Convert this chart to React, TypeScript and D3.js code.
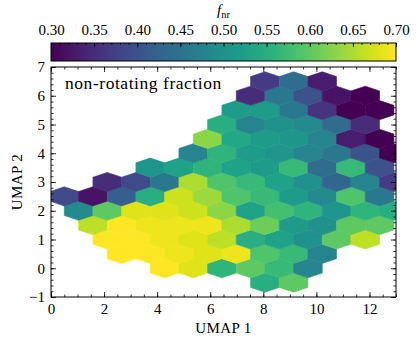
import { useRef, useEffect } from 'react';
import * as d3 from 'd3';

// hexbin grid: row k sits at y = rowY0 + k * rowStep; odd rows shifted by half a hex
const hexWidth = 1.08;
const hexRowHeight = 1.0;
const rowY0 = -0.5;
const rowStep = 0.5;
const colX0 = 0.5;

// first column index of every row (bottom row first)
const rowStart = [7, 3, 2, 1, 1, 0, 0, 1, 3, 4, 5, 5, 6, 6, 7];

// non-rotating fraction per hexagon, row by row
const rowValues = [
  [0.55, 0.6],
  [0.7, 0.68, 0.56, 0.6, 0.57, 0.48],
  [0.7, 0.7, 0.69, 0.68, 0.69, 0.59, 0.57, 0.48],
  [0.7, 0.7, 0.69, 0.68, 0.66, 0.55, 0.53, 0.5, 0.6, 0.66],
  [0.66, 0.7, 0.69, 0.69, 0.69, 0.65, 0.61, 0.52, 0.5, 0.6, 0.6],
  [0.49, 0.6, 0.68, 0.68, 0.67, 0.63, 0.53, 0.58, 0.56, 0.51, 0.56, 0.55],
  [0.39, 0.32, 0.42, 0.55, 0.67, 0.64, 0.59, 0.57, 0.52, 0.49, 0.59, 0.46],
  [0.35, 0.39, 0.46, 0.65, 0.59, 0.57, 0.53, 0.5, 0.43, 0.48, 0.37],
  [0.51, 0.53, 0.56, 0.53, 0.52, 0.57, 0.44, 0.57, 0.4],
  [0.48, 0.56, 0.52, 0.51, 0.48, 0.46, 0.4, 0.3],
  [0.63, 0.54, 0.52, 0.51, 0.48, 0.33, 0.3],
  [0.55, 0.48, 0.5, 0.49, 0.44, 0.35],
  [0.52, 0.52, 0.46, 0.36, 0.3, 0.3],
  [0.35, 0.46, 0.4, 0.32, 0.3],
  [0.37, 0.44, 0.33],
];

const xTicks = [0, 2, 4, 6, 8, 10, 12];
const yTicks = [-1, 0, 1, 2, 3, 4, 5, 6, 7];
const cbTicks = [0.3, 0.35, 0.4, 0.45, 0.5, 0.55, 0.6, 0.65, 0.7];

const FONT = '"Liberation Serif", "DejaVu Serif", serif';

function App() {
  const svgRef = useRef(null);
  const width = 416;
  const height = 342;

  useEffect(() => {
    const svg = d3.select(svgRef.current);
    svg.selectAll('*').remove();
    const margin = { top: 67, right: 20, bottom: 45, left: 51 };
    const x = d3.scaleLinear().domain([0, 13]).range([margin.left, width - margin.right]);
    const y = d3.scaleLinear().domain([-1, 7]).range([height - margin.bottom, margin.top]);
    const color = d3.scaleSequential(d3.interpolateViridis).domain([0.3, 0.7]);

    const cells = [];
    rowValues.forEach((vals, k) => {
      vals.forEach((v, i) => {
        const m = rowStart[k] + i;
        cells.push({
          cx: colX0 + (m + (k % 2) * 0.5) * hexWidth,
          cy: rowY0 + k * rowStep,
          v,
        });
      });
    });

    const hexCorners = [
      [0.5, -1 / 6], [0.5, 1 / 6], [0, 1 / 3], [-0.5, 1 / 6], [-0.5, -1 / 6], [0, -1 / 3],
    ];

    svg.append('clipPath').attr('id', 'plotclip')
      .append('rect')
      .attr('x', x(0)).attr('y', y(7))
      .attr('width', x(13) - x(0)).attr('height', y(-1) - y(7));

    svg.append('g')
      .attr('clip-path', 'url(#plotclip)')
      .selectAll('path')
      .data(cells)
      .join('path')
      .attr('d', (d) => 'M' + hexCorners.map(([dx, dy]) =>
        `${x(d.cx + dx * hexWidth)},${y(d.cy + dy * hexRowHeight)}`).join('L') + 'Z')
      .attr('fill', (d) => color(d.v))
      .attr('stroke', (d) => color(d.v))
      .attr('stroke-width', 0.6);

    // axes, ticks inside on all four sides
    const axisStyle = (g) => {
      g.attr('font-family', null).attr('font-size', null);
      g.select('.domain').remove();
      g.selectAll('line').attr('stroke', '#000').attr('stroke-width', 0.8);
      g.selectAll('text').attr('fill', '#000').style('font-family', FONT).style('font-size', '15px');
    };
    const xMinor = d3.range(0, 13.01, 0.5);
    const yMinor = d3.range(-1, 7.01, 0.2);
    const bottom = y(-1);
    const top = y(7);

    svg.append('g').attr('transform', `translate(0,${bottom})`)
      .call(d3.axisBottom(x).tickValues(xTicks).tickFormat(d3.format('d')).tickSize(-5).tickPadding(6))
      .call(axisStyle);
    svg.append('g').attr('transform', `translate(0,${bottom})`)
      .call(d3.axisBottom(x).tickValues(xMinor).tickFormat('').tickSize(-2.5)).call(axisStyle);
    svg.append('g').attr('transform', `translate(0,${top})`)
      .call(d3.axisTop(x).tickValues(xTicks).tickFormat('').tickSize(-5)).call(axisStyle);
    svg.append('g').attr('transform', `translate(0,${top})`)
      .call(d3.axisTop(x).tickValues(xMinor).tickFormat('').tickSize(-2.5)).call(axisStyle);

    svg.append('g').attr('transform', `translate(${x(0)},0)`)
      .call(d3.axisLeft(y).tickValues(yTicks).tickFormat((d) => (d < 0 ? '\u2212' : '') + Math.abs(d)).tickSize(-5).tickPadding(6))
      .call(axisStyle);
    svg.append('g').attr('transform', `translate(${x(0)},0)`)
      .call(d3.axisLeft(y).tickValues(yMinor).tickFormat('').tickSize(-2.5)).call(axisStyle);
    svg.append('g').attr('transform', `translate(${x(13)},0)`)
      .call(d3.axisRight(y).tickValues(yTicks).tickFormat('').tickSize(-5)).call(axisStyle);
    svg.append('g').attr('transform', `translate(${x(13)},0)`)
      .call(d3.axisRight(y).tickValues(yMinor).tickFormat('').tickSize(-2.5)).call(axisStyle);

    svg.append('rect')
      .attr('x', x(0)).attr('y', top)
      .attr('width', x(13) - x(0)).attr('height', bottom - top)
      .attr('fill', 'none').attr('stroke', '#000').attr('stroke-width', 1);

    svg.append('text')
      .attr('x', x(0) + 14).attr('y', 89)
      .style('font-family', FONT).style('font-size', '17.5px')
      .style('letter-spacing', '0.55px')
      .text('non-rotating fraction');

    svg.append('text')
      .attr('x', (x(0) + x(13)) / 2).attr('y', 333)
      .attr('text-anchor', 'middle')
      .style('font-family', FONT).style('font-size', '15px')
      .style('letter-spacing', '0.4px')
      .text('UMAP 1');

    svg.append('text')
      .attr('transform', `translate(22,${(top + bottom) / 2}) rotate(-90)`)
      .attr('text-anchor', 'middle')
      .style('font-family', FONT).style('font-size', '15px')
      .style('letter-spacing', '0.4px')
      .text('UMAP 2');

    // colorbar
    const cb = d3.scaleLinear().domain([0.3, 0.7]).range([x(0), x(13)]);
    const cbTop = 43;
    const cbH = 18;
    const grad = svg.append('defs').append('linearGradient').attr('id', 'viridisgrad');
    d3.range(0, 1.001, 0.05).forEach((t) => {
      grad.append('stop').attr('offset', `${t * 100}%`).attr('stop-color', d3.interpolateViridis(t));
    });
    svg.append('rect')
      .attr('x', cb(0.3)).attr('y', cbTop)
      .attr('width', cb(0.7) - cb(0.3)).attr('height', cbH)
      .attr('fill', 'url(#viridisgrad)');
    svg.append('g').attr('transform', `translate(0,${cbTop})`)
      .call(d3.axisTop(cb).tickValues(cbTicks).tickFormat(d3.format('.2f')).tickSize(-4).tickPadding(8))
      .call(axisStyle);
    svg.append('g').attr('transform', `translate(0,${cbTop})`)
      .call(d3.axisTop(cb).tickValues(d3.range(0.3, 0.7001, 0.01)).tickFormat('').tickSize(-2)).call(axisStyle);
    svg.append('rect')
      .attr('x', cb(0.3)).attr('y', cbTop)
      .attr('width', cb(0.7) - cb(0.3)).attr('height', cbH)
      .attr('fill', 'none').attr('stroke', '#000').attr('stroke-width', 1);

    const lab = svg.append('text')
      .attr('x', (x(0) + x(13)) / 2).attr('y', 15)
      .attr('text-anchor', 'middle')
      .style('font-family', FONT).style('font-size', '15px');
    lab.append('tspan').style('font-style', 'italic').text('f');
    lab.append('tspan').attr('dy', 2.5).style('font-size', '10.5px').text('nr');
  }, []);

  return (
    <svg
      ref={svgRef}
      width={width}
      height={height}
      style={{ position: 'absolute', left: 0, top: 0, background: '#fff' }}
    ></svg>
  );
}

export default App;
